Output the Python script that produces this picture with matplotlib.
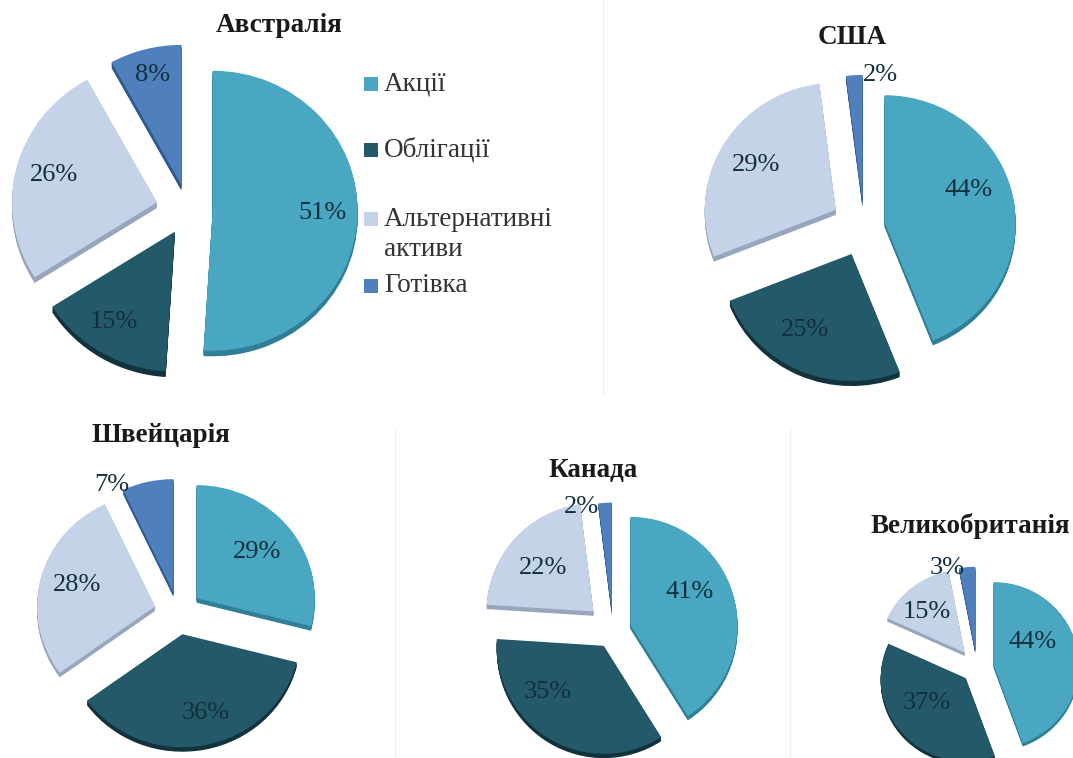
import matplotlib
matplotlib.use("Agg")
import matplotlib.pyplot as plt
from matplotlib.lines import Line2D
from matplotlib.patches import Rectangle

W, H = 1073, 758

series_names = ["Акції", "Облігації", "Альтернативні\nактиви", "Готівка"]
colors = ["#4aa7c2", "#24596a", "#c5d3e8", "#4f80bd"]
dark = ["#2f7f96", "#12333d", "#97a6bd", "#2f5a8c"]

australia = [51, 15, 26, 8]
usa = [44, 25, 29, 2]
switzerland = [29, 36, 28, 7]
canada = [41, 35, 22, 2]
uk = [44, 37, 15, 3]

plt.rcParams["font.family"] = ["Liberation Serif", "DejaVu Serif"]
fig = plt.figure(figsize=(W / 100, H / 100), dpi=100, facecolor="white")


def draw_pie(vals, cx, cy, rx, ry, exp, label_px, depth=0.04):
    # axes in pixels, so the squash of the fake 3d is easy to tune
    m = 1.6
    ax = fig.add_axes([(cx - rx * m) / W, 1 - (cy + ry * m) / H, 2 * rx * m / W, 2 * ry * m / H])
    steps = 6
    for i in range(steps, 0, -1):
        ax.pie(vals, colors=dark, explode=exp, startangle=90, counterclock=False,
               center=(0, -depth * i / steps), radius=1, frame=True)
    _, _, pct = ax.pie(vals, colors=colors, explode=exp, startangle=90, counterclock=False,
                       autopct="%.0f%%", radius=1, frame=True,
                       textprops={"fontsize": 19, "color": "#12303c"})
    # labels sit wherever the original put them, not on the wedge middle
    for t, (px, py) in zip(pct, label_px):
        t.set_position(((px - cx) / rx, (cy - py) / ry))
        t.set_zorder(10)
    ax.set_xlim(-m, m)
    ax.set_ylim(-m, m)
    ax.set_aspect("auto")
    ax.axis("off")
    return ax


for x, y0, y1 in [(603, 0, 395), (395, 430, 758), (790, 430, 758)]:
    fig.add_artist(Line2D([x / W, x / W], [1 - y0 / H, 1 - y1 / H], color="#f1f1f1", lw=1))

draw_pie(australia, 188, 210, 145, 140, [0.17, 0.18, 0.22, 0.185],
         [(322, 213), (114, 322), (54, 175), (153, 75)])
draw_pie(usa, 864, 226, 131, 127, [0.16, 0.24, 0.25, 0.19],
         [(969, 190), (805, 330), (756, 165), (880, 75)])
draw_pie(switzerland, 178, 612, 118, 113, [0.2, 0.2, 0.2, 0.18],
         [(257, 552), (206, 713), (77, 585), (112, 485)])
draw_pie(canada, 613, 630, 107, 108, [0.17, 0.17, 0.25, 0.18],
         [(690, 592), (548, 692), (543, 568), (581, 507)])
draw_pie(uk, 977, 668, 85, 83, [0.2, 0.18, 0.235, 0.22],
         [(1033, 642), (927, 703), (927, 612), (947, 568)])

titles = [("Австралія", 279, 26), ("США", 852, 38), ("Швейцарія", 161, 436),
          ("Канада", 593, 470), ("Великобританія", 970, 526)]
for t, x, y in titles:
    fig.text(x / W, 1 - y / H, t, ha="center", va="center", fontsize=19.5, fontweight="bold", color="#1a1a1a")

legend_y = [84, 150, 219, 286]
for name, c, y in zip(series_names, colors, legend_y):
    fig.add_artist(Rectangle((364 / W, 1 - (y + 7) / H), 14 / W, 14 / H,
                             transform=fig.transFigure, facecolor=c, edgecolor="none"))
    lines = name.split("\n")
    fig.text(384 / W, 1 - y / H, lines[0], ha="left", va="center", fontsize=19.5, color="#333333")
    if len(lines) > 1:
        fig.text(384 / W, 1 - (y + 31) / H, lines[1], ha="left", va="center", fontsize=19.5, color="#333333")

fig.savefig("out.png", dpi=100)
